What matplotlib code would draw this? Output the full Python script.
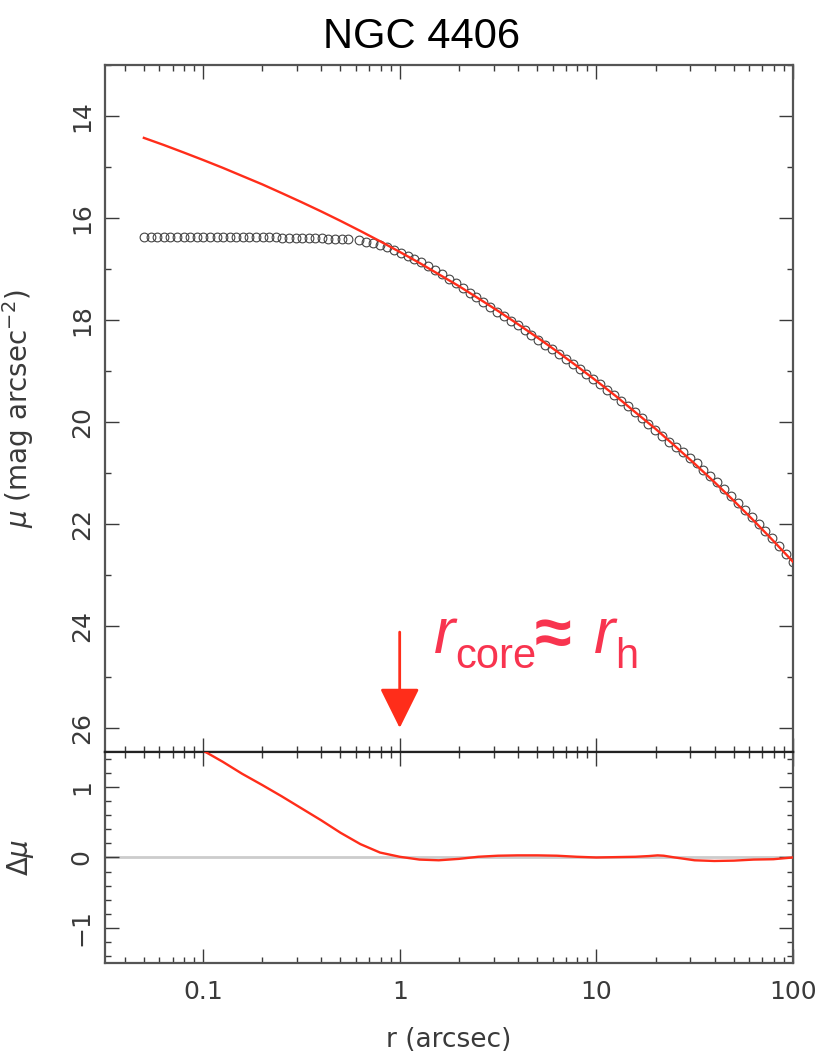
import matplotlib
matplotlib.use('Agg')
import matplotlib.pyplot as plt
from matplotlib.ticker import FixedLocator, MultipleLocator, NullFormatter, FixedFormatter, LogLocator

plt.rcParams['font.family'] = ['DejaVu Sans']
plt.rcParams['mathtext.fontset'] = 'dejavusans'

# ---- data ----
r_inner = [0.0501, 0.0541, 0.0585, 0.0632, 0.0682, 0.0737, 0.0796, 0.0860, 0.0929, 0.1003,
           0.1084, 0.1171, 0.1264, 0.1366, 0.1475, 0.1594, 0.1721, 0.1859, 0.2008, 0.2169,
           0.2343, 0.2531, 0.2734, 0.2953, 0.3190, 0.3446, 0.3722, 0.4021, 0.4343, 0.4692,
           0.5068, 0.5474]
mu_inner = [16.37, 16.37, 16.37, 16.37, 16.37, 16.37, 16.37, 16.37, 16.37, 16.37,
            16.37, 16.37, 16.37, 16.37, 16.37, 16.38, 16.38, 16.38, 16.38, 16.38,
            16.38, 16.39, 16.39, 16.39, 16.39, 16.40, 16.40, 16.40, 16.41, 16.41,
            16.41, 16.42]

r_outer = [0.624, 0.676, 0.733, 0.794, 0.861, 0.933, 1.012, 1.097, 1.189, 1.288,
           1.396, 1.514, 1.641, 1.778, 1.928, 2.089, 2.265, 2.455, 2.661, 2.884,
           3.126, 3.388, 3.673, 3.981, 4.315, 4.677, 5.070, 5.495, 5.957, 6.457,
           6.998, 7.586, 8.222, 8.913, 9.661, 10.47, 11.35, 12.30, 13.34, 14.45,
           15.67, 16.98, 18.41, 19.95, 21.63, 23.44, 25.41, 27.54, 29.85, 32.36,
           35.08, 38.02, 41.21, 44.67, 48.42, 52.48, 56.89, 61.66, 66.83, 72.44,
           78.52, 85.11, 92.26, 100.0]
mu_outer = [16.435, 16.465, 16.496, 16.526, 16.574, 16.627, 16.686, 16.741, 16.802, 16.868,
            16.941, 17.019, 17.104, 17.190, 17.276, 17.369, 17.462, 17.556, 17.652, 17.743,
            17.835, 17.924, 18.018, 18.108, 18.201, 18.294, 18.387, 18.483, 18.574, 18.667,
            18.762, 18.855, 18.952, 19.051, 19.149, 19.256, 19.364, 19.471, 19.581, 19.692,
            19.804, 19.922, 20.041, 20.164, 20.282, 20.384, 20.487, 20.594, 20.700, 20.813,
            20.934, 21.054, 21.182, 21.314, 21.445, 21.581, 21.721, 21.862, 22.001, 22.143,
            22.284, 22.432, 22.586, 22.740]

r_model = [0.05, 0.0631, 0.0794, 0.1, 0.126, 0.158, 0.200, 0.251, 0.316, 0.398,
           0.501, 0.631, 0.794, 1.0, 1.26, 1.58, 2.00, 2.51, 3.16, 3.98,
           5.01, 6.31, 7.94, 10.0, 12.6, 15.8, 20.0, 25.1, 31.6, 39.8,
           50.1, 63.1, 79.4, 100.0]
mu_model = [14.430, 14.569, 14.714, 14.863, 15.017, 15.176, 15.341, 15.512, 15.688, 15.870,
            16.059, 16.255, 16.456, 16.665, 16.881, 17.104, 17.336, 17.575, 17.822, 18.078,
            18.343, 18.617, 18.900, 19.193, 19.496, 19.810, 20.134, 20.470, 20.817, 21.176,
            21.547, 21.932, 22.329, 22.740]

r_resid = [0.1, 0.126, 0.158, 0.200, 0.251, 0.316, 0.398, 0.501, 0.631, 0.794,
           1.0, 1.26, 1.58, 2.0, 2.51, 3.16, 3.98, 5.01, 6.31, 7.94,
           10.0, 12.6, 15.8, 18.5, 20.5, 22.0, 25.1, 31.6, 39.8, 50.1,
           63.1, 79.4, 100.0]
d_resid = [1.52, 1.36, 1.19, 1.03, 0.87, 0.70, 0.53, 0.35, 0.19, 0.07,
           0.01, -0.03, -0.04, -0.02, 0.01, 0.025, 0.03, 0.03, 0.025, 0.01,
           0.0, 0.005, 0.01, 0.02, 0.03, 0.025, 0.0, -0.04, -0.05, -0.045,
           -0.03, -0.025, 0.0]

xtick_vals = [0.1, 1, 10, 100]
xtick_labels = ['0.1', '1', '10', '100']
mu_ticks = [14, 16, 18, 20, 22, 24, 26]
dmu_ticks = [-1, 0, 1]
dmu_labels = ['\u22121', '0', '1']
r_core = 1.0

# ---- styling ----
RED = '#ff2d1a'
TXT_RED = '#f8344f'
AX_COL = '#555555'
TXT_COL = '#3a3a3a'
LAB_FS = 18

fig = plt.figure(figsize=(8.2, 10.63), dpi=100)
ax1 = fig.add_axes([0.128, 0.2926, 0.839, 0.6463])
ax2 = fig.add_axes([0.128, 0.0941, 0.839, 0.1985])

for ax in (ax1, ax2):
    ax.set_xscale('log')
    ax.set_xlim(0.0317, 100)
    ax.xaxis.set_major_locator(FixedLocator(xtick_vals))
    ax.xaxis.set_minor_locator(LogLocator(base=10, subs=range(2, 10)))
    ax.xaxis.set_minor_formatter(NullFormatter())
    ax.tick_params(which='both', direction='in', top=True, right=True,
                   color=TXT_COL, width=1.0, labelcolor=TXT_COL, labelsize=LAB_FS)
    ax.tick_params(which='major', length=10)
    ax.tick_params(which='minor', length=4.5)
    ax.tick_params(axis='y', labelrotation=90, pad=8)
    ax.tick_params(axis='x', pad=12)
    for s in ax.spines.values():
        s.set_color(AX_COL)
        s.set_linewidth(1.6)

# top panel
ax1.plot(r_inner, mu_inner, 'o', ms=6.3, mfc='none', mec='#444444', mew=0.8, zorder=2)
ax1.plot(r_outer, mu_outer, 'o', ms=6.3, mfc='none', mec='#444444', mew=0.8, zorder=2)
ax1.plot(r_model, mu_model, '-', color=RED, lw=1.7, zorder=3)
ax1.set_ylim(26.47, 13.0)
ax1.yaxis.set_major_locator(FixedLocator(mu_ticks))
ax1.yaxis.set_minor_locator(MultipleLocator(1))
for lab in ax1.get_yticklabels():
    lab.set_va('center')
ax1.xaxis.set_major_formatter(NullFormatter())
ax1.set_ylabel(r'$\mu$ (mag arcsec$^{-2}$)', fontsize=20, color=TXT_COL)
ax1.yaxis.set_label_coords(-0.100, 0.5)
ax1.spines['bottom'].set_color('#222222')

ax1.annotate('', xy=(r_core, 26.0), xytext=(r_core, 24.12),
             arrowprops=dict(arrowstyle='-|>,head_length=1.25,head_width=0.62',
                             mutation_scale=20, color=RED, lw=2.0,
                             shrinkA=0, shrinkB=0))

# annotation "r_core ≈ r_h" built from pieces (offsets in pixels -> points)
anchor = (1.49, 24.53)
pieces = [
    ('r', 0, 0, 46, 'italic', 'normal'),
    ('core', 22, -15, 30, 'normal', 'normal'),
    ('\u2248', 101, -2, 48, 'normal', 'bold'),
    ('r', 160, 0, 46, 'italic', 'normal'),
    ('h', 181, -15, 30, 'normal', 'normal'),
]
for txt, dx, dy, fs, style, weight in pieces:
    ax1.annotate(txt, xy=anchor, xycoords='data', xytext=(dx * 0.72, dy * 0.72),
                 textcoords='offset points', ha='left', va='baseline',
                 fontsize=fs, fontstyle=style, fontweight=weight, color=TXT_RED,
                 family=['Liberation Sans', 'DejaVu Sans'], annotation_clip=False)

ax1.set_title('NGC 4406', fontsize=30, color='black', pad=12,
              family=['Liberation Sans', 'DejaVu Sans'])
ax1.title.set_position((0.46, 1.0))

# bottom panel
ax2.axhline(0, color='#cccccc', lw=2, zorder=1)
ax2.plot(r_resid, d_resid, '-', color=RED, lw=1.7, zorder=3)
ax2.set_ylim(-1.5, 1.5)
ax2.yaxis.set_major_locator(FixedLocator(dmu_ticks))
ax2.yaxis.set_minor_locator(MultipleLocator(0.2))
ax2.xaxis.set_major_formatter(FixedFormatter(xtick_labels))
ax2.set_yticklabels(dmu_labels)
for lab in ax2.get_yticklabels():
    lab.set_va('center')
ax2.set_ylabel(r'$\Delta\mu$', fontsize=20, color=TXT_COL)
ax2.yaxis.set_label_coords(-0.100, 0.5)
ax2.set_xlabel('r (arcsec)', fontsize=19, color=TXT_COL, va='center')
ax2.xaxis.set_label_coords(0.5, -0.365)
ax2.spines['top'].set_color('#222222')

fig.savefig('out.png', dpi=100)
